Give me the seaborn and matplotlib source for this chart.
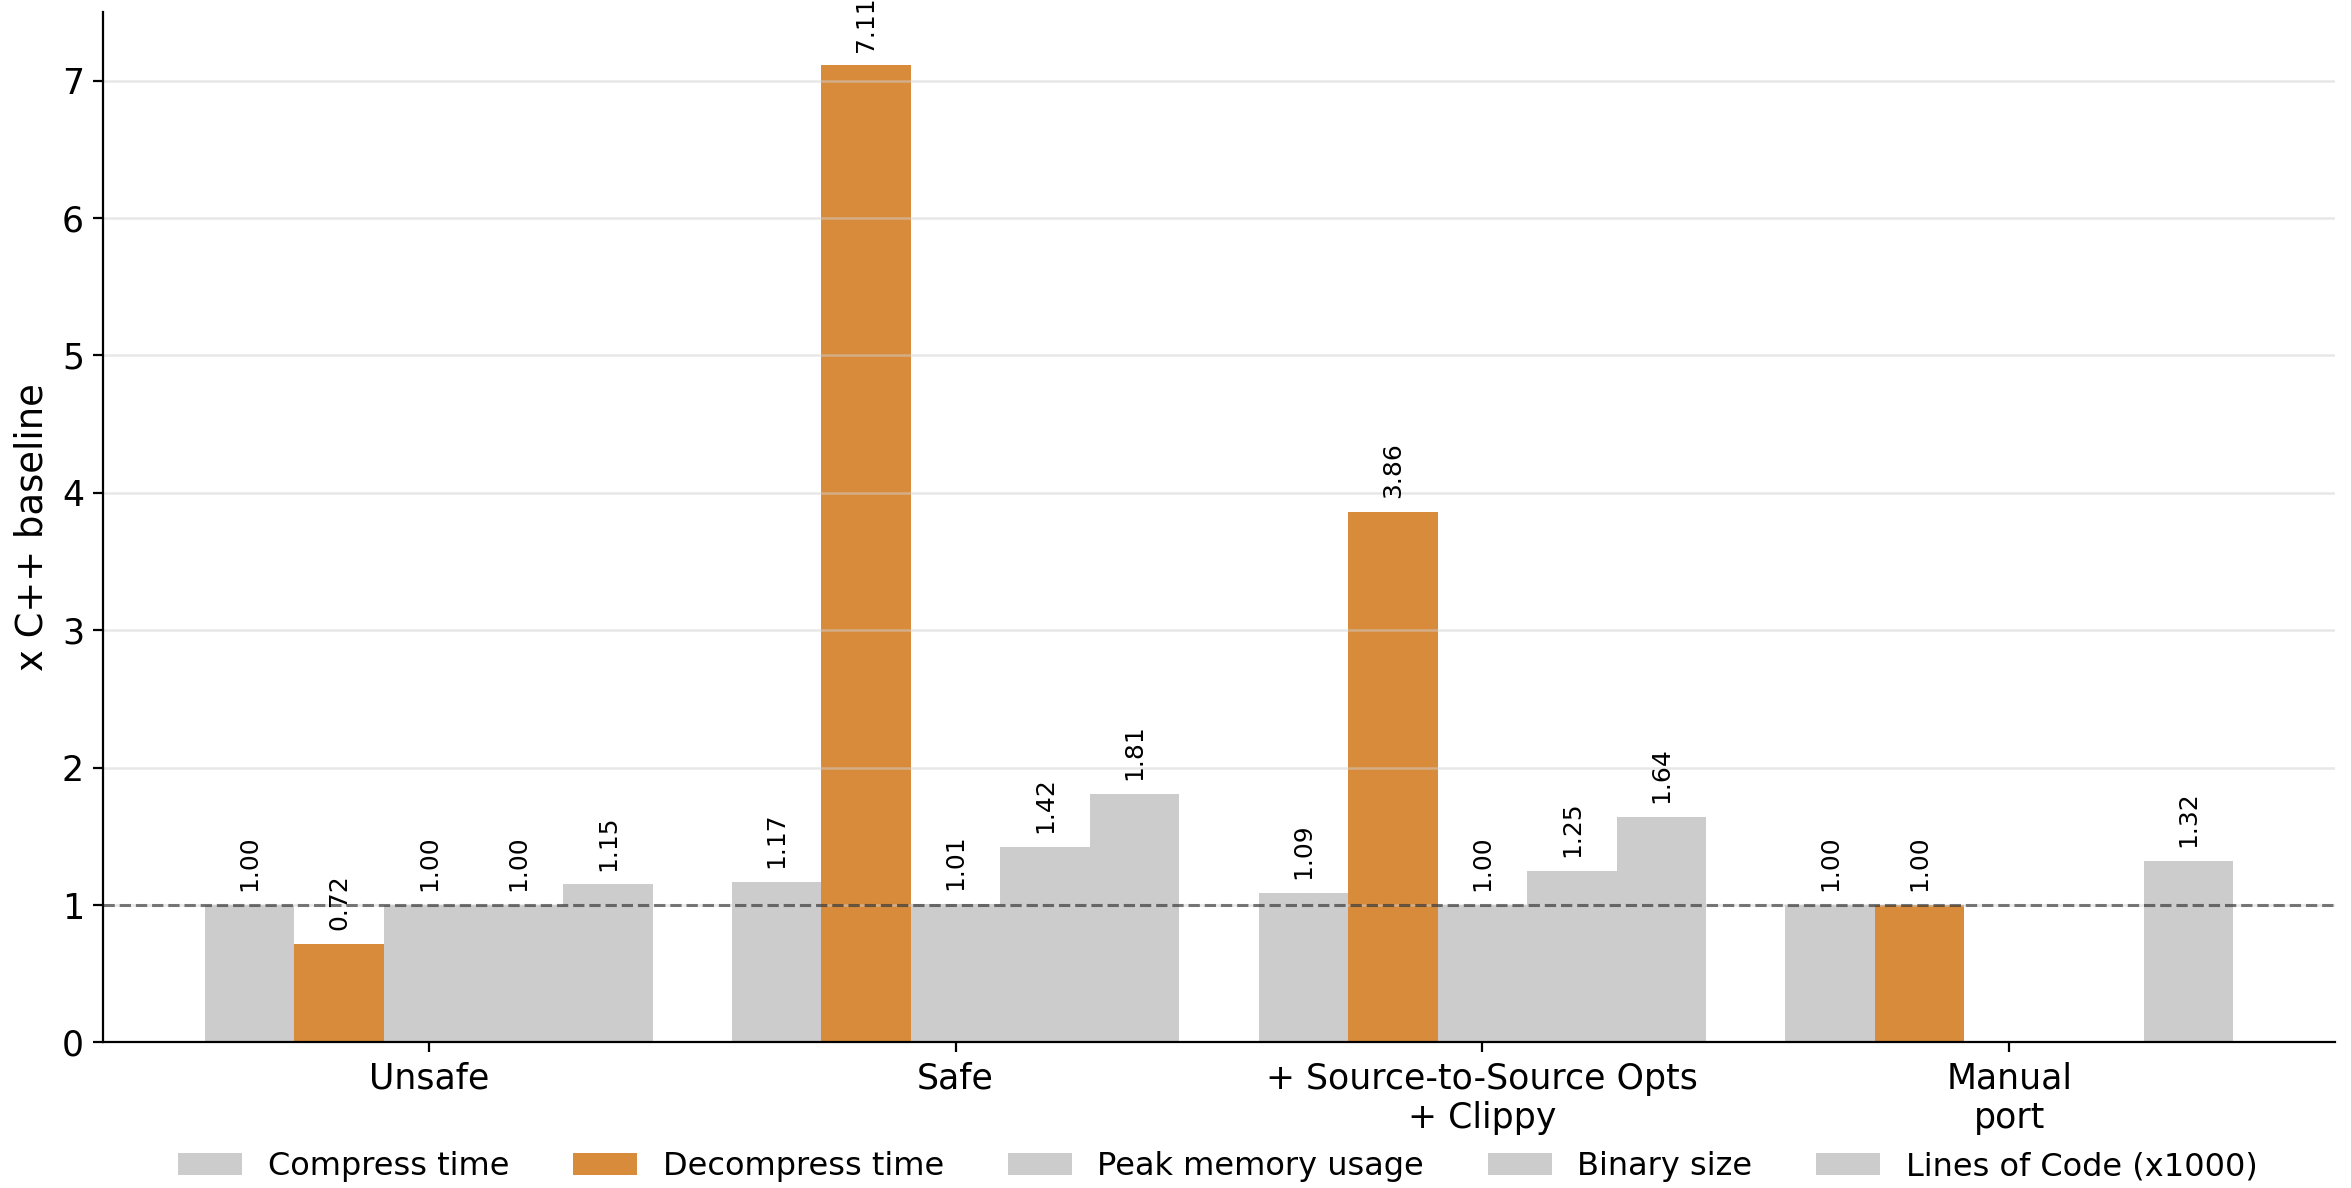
import pandas as pd
import numpy as np
import seaborn as sns
import matplotlib.pyplot as plt

# data
configs = ["Unsafe", "Safe", "+ Source-to-Source Opts\n+ Clippy", "Manual\nport"]
metrics = ["Compress time", "Decompress time", "Peak memory usage",
           "Binary size", "Lines of Code (x1000)"]
compress_time = [1.00, 1.17, 1.09, 1.00]
decompress_time = [0.72, 7.11, 3.86, 1.00]
peak_memory = [1.00, 1.01, 1.00, np.nan]
binary_size = [1.00, 1.42, 1.25, np.nan]
lines_of_code = [1.15, 1.81, 1.64, 1.32]

colors = ["#cccccc", "#d88b3a", "#cccccc", "#cccccc", "#cccccc"]

series = [compress_time, decompress_time, peak_memory, binary_size, lines_of_code]
rows = []
for m, vals in zip(metrics, series):
    for c, v in zip(configs, vals):
        rows.append({"config": c, "metric": m, "value": v})
df = pd.DataFrame(rows)

plt.rcParams['font.family'] = ['DejaVu Sans']

fig = plt.figure(figsize=(11.755, 5.94), dpi=200)
ax = fig.add_axes([0.044, 0.1225, 0.949, 0.8675])

sns.barplot(data=df, x="config", y="value", hue="metric", order=configs,
            hue_order=metrics, palette=colors, width=0.85, saturation=1,
            gap=0, errorbar=None, linewidth=0, ax=ax)

# value labels
for cont in ax.containers:
    ax.bar_label(cont, fmt="%.2f", rotation=90, padding=5, fontsize=9)

# baseline
ax.axhline(1.0, color="black", alpha=0.5, linestyle="--", linewidth=1.1, zorder=3)

ax.set_ylim(0, 7.5)
ax.set_xlim(-0.6175, 3.6175)
ax.set_yticks(range(8))
ax.yaxis.grid(True, color="#d0d0d0", alpha=0.5, linewidth=0.9)
ax.set_xlabel("")
ax.set_ylabel("x C++ baseline", fontsize=13.3)
ax.tick_params(axis="both", labelsize=12.5)
sns.despine(ax=ax)

handles, labels = ax.get_legend_handles_labels()
ax.get_legend().remove()
fig.legend(handles, labels, loc="center", bbox_to_anchor=(0.518, 0.018),
           ncol=5, frameon=False, fontsize=11.5)

fig.savefig("out.png", dpi=200)
